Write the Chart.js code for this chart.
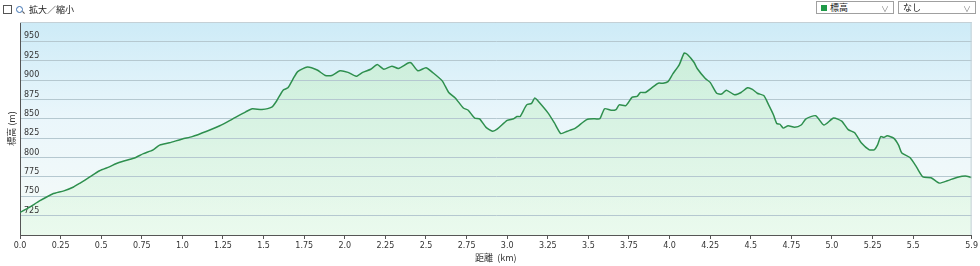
<!DOCTYPE html>
<html>
<head>
<meta charset="utf-8">
<script src="https://cdn.jsdelivr.net/npm/chart.js@4"></script>
<style>
    html, body { margin: 0; padding: 0; background: #fff; }
    body { width: 980px; height: 266px; position: relative; overflow: hidden;
           font-family: "Noto Sans CJK JP", "DejaVu Sans", sans-serif; font-size: 9px; color: #222; }
    #wrap { position: absolute; left: 0; top: 0; width: 980px; height: 266px; }
    canvas { background-repeat: no-repeat; }
    .zoomctl { position: absolute; left: 3px; top: 3px; height: 12px; display: flex; align-items: center; }
    .chk { width: 7px; height: 7px; border: 1px solid #555; background: #fff; margin-right: 4px; }
    .lens { width: 5px; height: 5px; border: 1px solid #3a6fb0; border-radius: 50%; margin-right: 6px; position: relative; }
    .lens:after { content: ''; position: absolute; left: 5px; top: 5px; width: 3px; height: 1px; background: #555; transform: rotate(45deg); }
    .sel { position: absolute; top: 1px; height: 13px; border: 1px solid #a0a0a0; background: #fff;
           display: flex; align-items: center; box-sizing: border-box; padding-left: 4px; }
    .sel .arr { position: absolute; right: 4px; top: 1px; color: #888; font-size: 8px; }
    .sq { width: 6px; height: 6px; background: #1f9a48; margin-right: 3px; }
</style>
</head>
<body>
<div id="wrap"><canvas id="elevChart" width="980" height="266"></canvas></div>
<div class="zoomctl"><div class="chk"></div><div class="lens"></div><span>拡大／縮小</span></div>
<div class="sel" style="left:816px;width:78px;"><div class="sq"></div><span>標高</span><span class="arr">&#8744;</span></div>
<div class="sel" style="left:898px;width:78px;"><span>なし</span><span class="arr">&#8744;</span></div>
<script>
// distance (km) and elevation (m)
const distKm = [0, 0.06, 0.12, 0.20, 0.27, 0.33, 0.37, 0.43, 0.49, 0.55, 0.59, 0.63, 0.70, 0.76, 0.82, 0.86, 0.92,
    1.00, 1.06, 1.15, 1.23, 1.31, 1.39, 1.43, 1.49, 1.55, 1.58, 1.62, 1.65, 1.68, 1.71, 1.77, 1.83, 1.88, 1.92,
    1.97, 2.02, 2.07, 2.11, 2.16, 2.20, 2.24, 2.29, 2.33, 2.39, 2.41, 2.45, 2.50, 2.54, 2.60, 2.64, 2.68, 2.73,
    2.76, 2.80, 2.83, 2.87, 2.91, 2.94, 3.00, 3.04, 3.06, 3.08, 3.12, 3.15, 3.17, 3.19, 3.25, 3.29, 3.33, 3.37,
    3.42, 3.49, 3.54, 3.57, 3.60, 3.64, 3.67, 3.69, 3.73, 3.77, 3.80, 3.82, 3.85, 3.89, 3.93, 3.96, 3.99, 4.02,
    4.06, 4.09, 4.11, 4.15, 4.17, 4.22, 4.25, 4.29, 4.32, 4.35, 4.40, 4.44, 4.48, 4.51, 4.54, 4.58, 4.61, 4.64,
    4.66, 4.68, 4.70, 4.73, 4.77, 4.81, 4.84, 4.90, 4.95, 5.01, 5.06, 5.10, 5.14, 5.18, 5.23, 5.26, 5.28, 5.30,
    5.32, 5.34, 5.38, 5.41, 5.43, 5.48, 5.52, 5.56, 5.61, 5.66, 5.71, 5.78, 5.83, 5.86];
const elevM = [729, 736, 744, 753, 757, 762, 767, 775, 783, 788, 792, 795, 799, 805, 810, 816, 819,
    824, 827, 834, 841, 850, 859, 863, 862, 865, 873, 887, 890, 901, 911, 917, 913, 906, 906,
    912, 910, 905, 910, 914, 920, 914, 918, 915, 922, 922, 912, 916, 910, 899, 884, 877, 864,
    861, 851, 850, 839, 834, 837, 848, 850, 853, 853, 868, 870, 877, 873, 858, 845, 831, 834,
    838, 849, 850, 850, 863, 861, 862, 868, 867, 878, 879, 884, 884, 890, 896, 896, 898, 908,
    920, 935, 933, 923, 915, 902, 897, 883, 882, 887, 881, 884, 890, 888, 883, 880, 868, 855,
    844, 843, 838, 841, 839, 842, 850, 854, 842, 851, 847, 836, 832, 819, 810, 810, 816, 827,
    826, 828, 825, 816, 806, 800, 788, 775, 774, 767, 770, 775, 776, 774];
const yMin = 700, yMax = 975, yStep = 25;
const xMax = 5.86, xStep = 0.25;

const points = distKm.map((d, i) => ({ x: d, y: elevM[i] }));

// thin frame on top and right of the plot
const plotFrame = {
    id: 'plotFrame',
    afterDraw(chart) {
        const { ctx, chartArea: a } = chart;
        ctx.save();
        ctx.strokeStyle = '#c4d0d6';
        ctx.lineWidth = 1;
        ctx.beginPath();
        ctx.moveTo(a.left, a.top + 0.5);
        ctx.lineTo(a.right - 0.5, a.top + 0.5);
        ctx.lineTo(a.right - 0.5, a.bottom);
        ctx.stroke();
        ctx.restore();
    }
};

const canvas = document.getElementById('elevChart');
const ctx = canvas.getContext('2d');
const elevChart = new Chart(ctx, {
    type: 'line',
    data: {
        datasets: [{
            label: '標高',
            data: points,
            borderColor: '#2e8f4e',
            borderWidth: 1.5,
            pointRadius: 0,
            tension: 0.2,
            fill: 'start',
            backgroundColor: function(context) {
                const a = context.chart.chartArea;
                if (!a) return 'rgba(200,240,215,0.6)';
                const g = context.chart.ctx.createLinearGradient(0, a.top, 0, a.bottom);
                g.addColorStop(0, 'rgba(196,236,210,0.85)');
                g.addColorStop(1, 'rgba(232,249,236,0.85)');
                return g;
            }
        }]
    },
    options: {
        responsive: false,
        animation: false,
        layout: { padding: { left: 0, right: 5, top: 22, bottom: 0 } },
        plugins: {
            legend: { display: false },
            tooltip: { enabled: false },
            filler: { drawTime: 'beforeDraw' }
        },
        scales: {
            x: {
                type: 'linear',
                min: 0,
                max: xMax,
                afterBuildTicks: function(scale) {
                    const t = [];
                    for (let v = 0; v <= 5.5 + 1e-9; v += xStep) t.push({ value: Math.round(v * 100) / 100 });
                    t.push({ value: xMax });
                    scale.ticks = t;
                },
                afterFit: function(scale) { scale.height = 31; },
                border: { display: true, color: '#555', width: 1 },
                grid: { display: true, drawOnChartArea: false, drawTicks: true, tickLength: 4, color: '#555' },
                ticks: {
                    autoSkip: false,
                    maxRotation: 0,
                    padding: 2,
                    color: '#333',
                    font: { family: 'Tahoma, "DejaVu Sans", sans-serif', size: 8 },
                    callback: function(v) {
                        if (v === xMax) return v.toFixed(1);
                        return Number.isInteger(v) ? v.toFixed(1) : String(v);
                    }
                },
                title: {
                    display: true,
                    text: '距離  (km)',
                    color: '#333',
                    padding: { top: 0, bottom: 3 },
                    font: { family: '"Noto Sans CJK JP", "DejaVu Sans", sans-serif', size: 9 }
                }
            },
            y: {
                min: yMin,
                max: yMax,
                afterFit: function(scale) { scale.width = 20; },
                border: { display: true, color: '#555', width: 1 },
                grid: { color: '#b5c8d0', lineWidth: 1, drawTicks: false },
                ticks: {
                    stepSize: yStep,
                    mirror: true,
                    padding: 4,
                    labelOffset: -5,
                    color: '#333',
                    font: { family: 'Tahoma, "DejaVu Sans", sans-serif', size: 8 },
                    callback: function(v) {
                        return (v === yMin || v === yMax) ? '' : String(v);
                    }
                },
                title: {
                    display: true,
                    text: '標高 (m)',
                    color: '#333',
                    padding: { top: 6, bottom: 0 },
                    font: { family: '"Noto Sans CJK JP", "DejaVu Sans", sans-serif', size: 9 }
                }
            }
        }
    },
    plugins: [plotFrame]
});

// sky gradient sits behind the canvas, sized to the chart area
const area = elevChart.chartArea;
canvas.style.backgroundImage = 'linear-gradient(to bottom, #cdebf7 0%, #eaf6fb 45%, #f6fbf8 100%)';
canvas.style.backgroundSize = (area.right - area.left) + 'px ' + (area.bottom - area.top) + 'px';
canvas.style.backgroundPosition = area.left + 'px ' + area.top + 'px';
</script>
</body>
</html>
